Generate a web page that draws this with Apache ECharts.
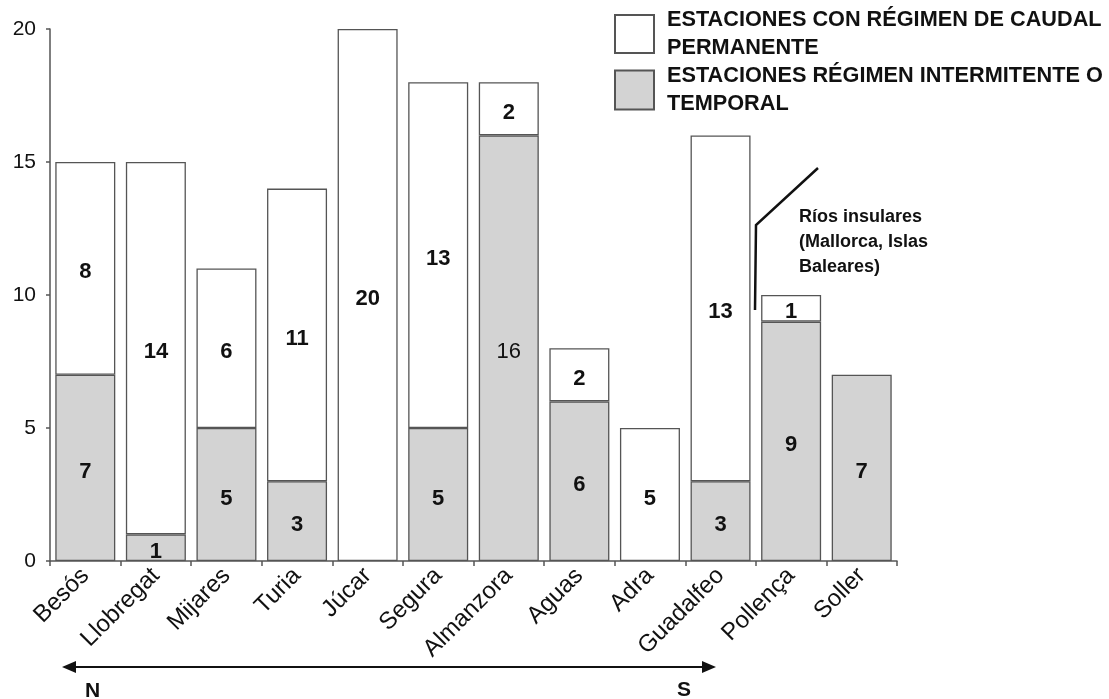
<!DOCTYPE html>
<html>
<head>
<meta charset="utf-8">
<script src="https://cdn.jsdelivr.net/npm/echarts@6/dist/echarts.min.js"></script>
<style>
  html, body { margin: 0; padding: 0; background: #ffffff; }
  #chart { width: 1109px; height: 699px; }
</style>
</head>
<body>
<div id="chart"></div>
<script>
// Gauging stations per river, ordered north to south, then the island rivers
const rivers = ['Besós', 'Llobregat', 'Mijares', 'Turia', 'Júcar', 'Segura', 'Almanzora', 'Aguas', 'Adra', 'Guadalfeo', 'Pollença', 'Soller'];
const intermittent = [7, 1, 5, 3, 0, 5, 16, 6, 0, 3, 9, 7];
const permanent = [8, 14, 6, 11, 20, 13, 2, 2, 5, 13, 1, 0];
const yTicks = [0, 5, 10, 15, 20];

const namePermanent = 'ESTACIONES CON RÉGIMEN DE CAUDAL PERMANENTE';
const nameIntermittent = 'ESTACIONES RÉGIMEN INTERMITENTE O TEMPORAL';
const islandNote = ['Ríos insulares', '(Mallorca, Islas', 'Baleares)'];

const FONT = '"Liberation Sans", Arial, sans-serif';
const AXIS = '#555555';
const EDGE = '#555555';
const GREY = '#d3d3d3';

// Empty segments are left out so no zero-height outline is drawn
function toSeriesData(values, plainIdx) {
  return values.map((v, i) => {
    if (v === 0) return '-';
    const item = { value: v };
    if (plainIdx.indexOf(i) >= 0) item.label = { fontWeight: 'normal' };
    return item;
  });
}

const valueLabel = {
  show: true,
  position: 'inside',
  offset: [0, 4],
  color: '#111',
  fontFamily: FONT,
  fontSize: 22,
  fontWeight: 'bold'
};

const legendText = {
  fontFamily: FONT,
  fontSize: 21.7,
  fontWeight: 'bold',
  color: '#111',
  lineHeight: 28,
  padding: [0, 0, 0, 8]
};

function legendLabel(name) {
  return name === namePermanent
    ? 'ESTACIONES CON RÉGIMEN DE CAUDAL\nPERMANENTE'
    : 'ESTACIONES RÉGIMEN INTERMITENTE O\nTEMPORAL';
}

const chart = echarts.init(document.getElementById('chart'), null, { renderer: 'canvas' });

chart.setOption({
  backgroundColor: '#ffffff',
  animation: false,
  grid: { left: 50, right: 212, top: 29, bottom: 138, containLabel: false },
  legend: [
    {
      left: 614, top: 6, padding: 0,
      itemWidth: 39, itemHeight: 38,
      icon: 'rect', selectedMode: false,
      data: [namePermanent],
      formatter: legendLabel,
      textStyle: legendText
    },
    {
      left: 614, top: 62, padding: 0,
      itemWidth: 39, itemHeight: 39,
      icon: 'rect', selectedMode: false,
      data: [nameIntermittent],
      formatter: legendLabel,
      textStyle: legendText
    }
  ],
  xAxis: {
    type: 'category',
    data: rivers,
    boundaryGap: true,
    axisLine: { lineStyle: { color: AXIS, width: 1.5 } },
    axisTick: { show: true, length: 5, lineStyle: { color: AXIS, width: 1.5 } },
    axisLabel: {
      rotate: 45,
      interval: 0,
      margin: 11,
      color: '#111',
      fontFamily: FONT,
      fontSize: 24
    },
    splitLine: { show: false }
  },
  yAxis: {
    type: 'value',
    min: yTicks[0],
    max: yTicks[yTicks.length - 1],
    interval: yTicks[1] - yTicks[0],
    axisLine: { show: true, lineStyle: { color: AXIS, width: 1.5 } },
    axisTick: { show: true, length: 4, lineStyle: { color: AXIS, width: 1.5 } },
    axisLabel: {
      margin: 14,
      color: '#111',
      fontFamily: FONT,
      fontSize: 21
    },
    splitLine: { show: false }
  },
  series: [
    {
      name: nameIntermittent,
      type: 'bar',
      stack: 'stations',
      barCategoryGap: '15%',
      itemStyle: { color: GREY, borderColor: EDGE, borderWidth: 1.3 },
      label: valueLabel,
      data: toSeriesData(intermittent, [rivers.indexOf('Almanzora')])
    },
    {
      name: namePermanent,
      type: 'bar',
      stack: 'stations',
      barCategoryGap: '15%',
      itemStyle: { color: '#ffffff', borderColor: EDGE, borderWidth: 1.3 },
      label: valueLabel,
      data: toSeriesData(permanent, [])
    }
  ],
  graphic: [
    // Callout marking the island rivers
    {
      type: 'polyline',
      shape: { points: [[755, 310], [756, 225], [818, 168]] },
      style: { stroke: '#111', lineWidth: 2.5, fill: null }
    },
    {
      type: 'text',
      left: 799,
      top: 205,
      style: {
        text: islandNote.join('\n'),
        fontFamily: FONT,
        fontSize: 18,
        fontWeight: 'bold',
        lineHeight: 25,
        fill: '#111'
      }
    },
    // North-south direction arrow under the axis
    {
      type: 'line',
      shape: { x1: 72, y1: 667, x2: 706, y2: 667 },
      style: { stroke: '#111', lineWidth: 2 }
    },
    {
      type: 'polygon',
      shape: { points: [[62, 667], [76, 661], [76, 673]] },
      style: { fill: '#111' }
    },
    {
      type: 'polygon',
      shape: { points: [[716, 667], [702, 661], [702, 673]] },
      style: { fill: '#111' }
    },
    {
      type: 'text',
      left: 85,
      top: 681,
      style: { text: 'N', fontFamily: FONT, fontSize: 21, fontWeight: 'bold', fill: '#111' }
    },
    {
      type: 'text',
      left: 677,
      top: 680,
      style: { text: 'S', fontFamily: FONT, fontSize: 21, fontWeight: 'bold', fill: '#111' }
    }
  ]
});
</script>
</body>
</html>
